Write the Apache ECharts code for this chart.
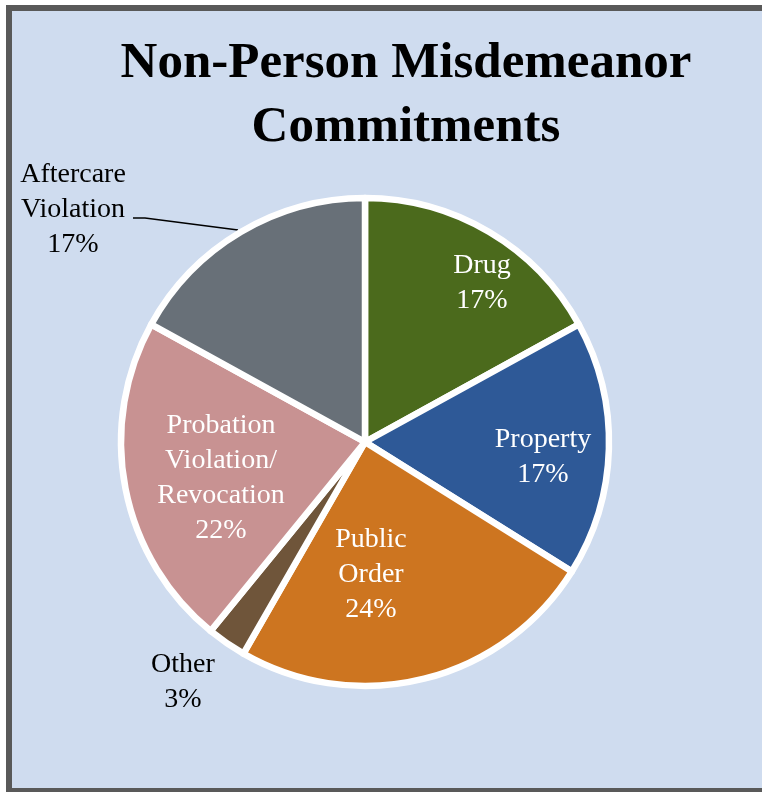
<!DOCTYPE html>
<html>
<head>
<meta charset="utf-8">
<script src="https://cdn.jsdelivr.net/npm/echarts@6/dist/echarts.min.js"></script>
<style>
  html, body { margin: 0; padding: 0; background: #ffffff; overflow: hidden; }
  #frame { position: absolute; left: 6px; top: 5px; width: 780px; height: 777px; border: 6px solid #595959; background: #cfdcef; }
  #chart { position: absolute; left: 0; top: 0; width: 762px; height: 792px; }
</style>
</head>
<body>
<div id="frame"></div>
<div id="chart"></div>
<script>
const categories = ['Drug', 'Property', 'Public\nOrder', 'Other', 'Probation\nViolation/\nRevocation', 'Aftercare\nViolation'];
const values = [17.0, 16.9, 24.4, 2.6, 22.1, 17.0];
const colors = ['#4b6a1c', '#2e5997', '#cd7520', '#6f553a', '#c89292', '#687078'];

const chart = echarts.init(document.getElementById('chart'), null, { renderer: 'canvas' });

const labelPos = [
  { x: 482, y: 283 },
  { x: 543, y: 457 },
  { x: 371, y: 575 },
  { x: 183, y: 682 },
  { x: 221, y: 478 },
  { x: 73, y: 210 }
];

chart.setOption({
  backgroundColor: 'transparent',
  animation: false,
  title: {
    text: 'Non-Person Misdemeanor\nCommitments',
    left: 401,
    top: 27,
    textAlign: 'center',
    textStyle: {
      fontFamily: 'Liberation Serif',
      fontWeight: 'bold',
      fontSize: 51,
      lineHeight: 64,
      color: '#000000'
    }
  },
  series: [{
    type: 'pie',
    center: [365, 442],
    radius: 244,
    startAngle: 90,
    clockwise: true,
    data: categories.map((c, i) => ({
      name: c,
      value: values[i],
      itemStyle: { color: colors[i] },
      label: (i === 3 || i === 5) ? { color: '#000000' } : { color: '#ffffff' },
      labelLine: { show: i === 5 }
    })),
    itemStyle: { borderColor: '#ffffff', borderWidth: 6.5 },
    label: {
      show: true,
      position: 'outside',
      formatter: p => p.name + '\n' + Math.round(p.value) + '%',
      fontFamily: 'Liberation Serif',
      fontSize: 28,
      lineHeight: 35,
      align: 'center',
      overflow: 'none',
      width: 200
    },
    labelLine: {
      show: true,
      lineStyle: { color: '#000000', width: 1.5 }
    },
    labelLayout: function (params) {
      const p = labelPos[params.dataIndex];
      const res = { x: p.x, y: p.y, align: 'center', verticalAlign: 'middle' };
      if (params.dataIndex === 5) {
        res.labelLinePoints = [[238, 230], [145, 218], [133, 218]];
      }
      return res;
    },
    emphasis: { disabled: true }
  }]
});
</script>
</body>
</html>
